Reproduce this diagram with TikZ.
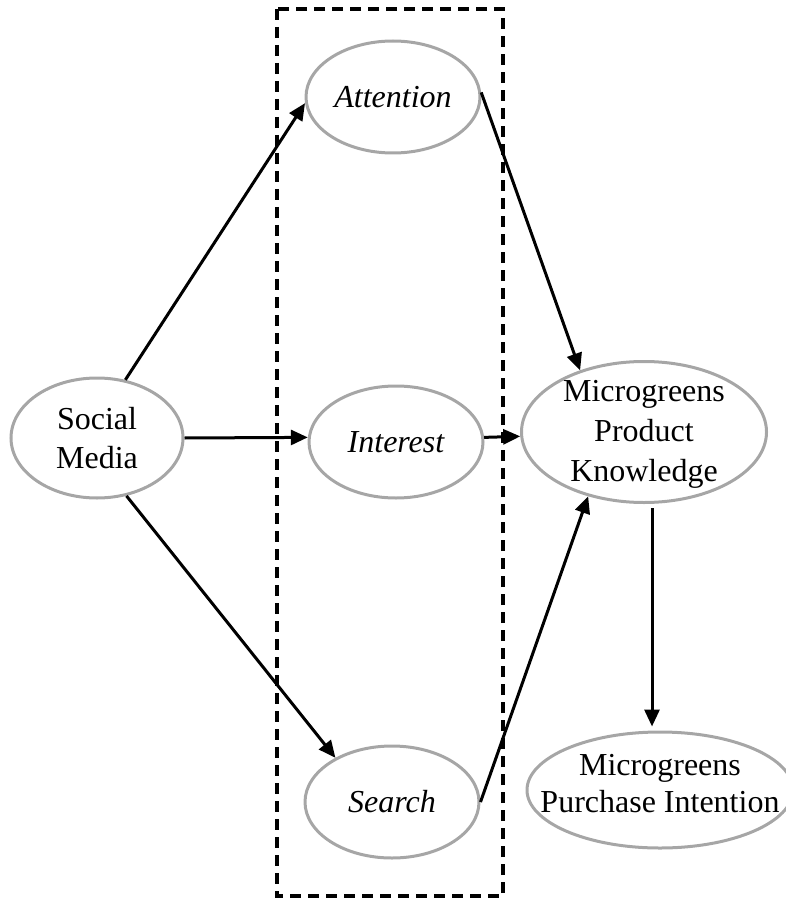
\documentclass[tikz,border=0pt]{standalone}
\usepackage{fontspec}
\setmainfont{Liberation Serif}
\usetikzlibrary{shapes.geometric,arrows.meta}
\tikzset{
  oval/.style={ellipse, draw=gray!70, line width=3pt, inner sep=0pt},
  txt/.style={align=center, inner sep=0pt, font=\fontsize{32}{39}\selectfont},
  arr/.style={-{Triangle[length=17pt,width=15pt]}, line width=3pt, black},
  frame/.style={draw=black, line width=3.5pt, dash pattern=on 11pt off 7pt}
}
\begin{document}
\begin{tikzpicture}[x=1pt,y=-1pt]
\useasboundingbox (0,0) rectangle (785,901);
\draw[frame] (277,9) rectangle (503,896);

\node[oval, minimum width=172pt, minimum height=120pt] (social) at (97,438) {};
\node[txt] (socialt) at (social.center) {Social\\Media};

\node[oval, minimum width=174pt, minimum height=112pt] (att) at (393,97) {};
\node[txt, font=\fontsize{32}{39}\selectfont\itshape] (attt) at (att.center) {Attention};

\node[oval, minimum width=174pt, minimum height=112pt] (int) at (396,442) {};
\node[txt, font=\fontsize{32}{39}\selectfont\itshape] (intt) at (int.center) {Interest};

\node[oval, minimum width=174pt, minimum height=112pt] (sea) at (392,802) {};
\node[txt, font=\fontsize{32}{39}\selectfont\itshape] (seat) at (sea.center) {Search};

\node[oval, minimum width=245pt, minimum height=141pt] (know) at (644,432) {};
\node[txt, font=\fontsize{32}{40}\selectfont] (knowt) at ([yshift=-2pt]know.center) {Microgreens\\Product\\Knowledge};

\node[oval, minimum width=266pt, minimum height=116pt] (purch) at (660,790) {};
\node[txt, font=\fontsize{32}{37}\selectfont] (purcht) at ([yshift=6pt]purch.center) {Microgreens\\Purchase Intention};

\draw[arr] (social.64) -- (att.184);
\draw[arr] (social.east) -- (int.177);
\draw[arr] (social.-63) -- (sea.142);
\draw[arr] (att.3) -- (know.136);
\draw[arr] (int.3) -- (know.182);
\draw[arr] (sea.east) -- (know.229);
\draw[arr] ([xshift=8pt,yshift=-4pt]know.south) -- ([xshift=-8pt,yshift=4pt]purch.north);
\end{tikzpicture}
\end{document}
